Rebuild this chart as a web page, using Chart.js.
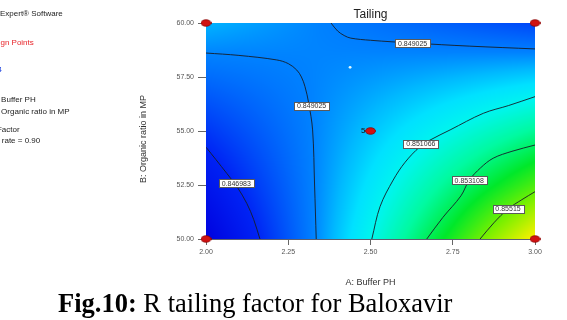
<!DOCTYPE html>
<html>
<head>
<meta charset="utf-8">
<script src="https://cdn.jsdelivr.net/npm/chart.js@4.4.1/dist/chart.umd.min.js"></script>
<style>
  html, body { margin: 0; padding: 0; background: #ffffff; }
  canvas { display: block; }
</style>
</head>
<body>
<canvas id="plot" width="567" height="320"></canvas>
<script>
// ---- Factor grid and predicted Tailing response (Flow rate = 0.90) ----
const bufferPH = [2.0, 2.125, 2.25, 2.375, 2.5, 2.625, 2.75, 2.875, 3.0];
const organicRatio = [50, 51.25, 52.5, 53.75, 55, 56.25, 57.5, 58.75, 60];
// one row per organic ratio, one column per buffer pH
const tailing = [
  [0.845154, 0.846620, 0.848087, 0.849553, 0.851019, 0.852485, 0.853952, 0.855600, 0.857100],
  [0.845717, 0.846970, 0.848223, 0.849476, 0.850729, 0.851982, 0.853236, 0.854600, 0.855900],
  [0.846279, 0.847319, 0.848359, 0.849399, 0.850439, 0.851480, 0.852520, 0.853560, 0.854600],
  [0.846842, 0.847669, 0.848496, 0.849323, 0.850150, 0.850977, 0.851803, 0.852630, 0.853457],
  [0.847405, 0.848018, 0.848632, 0.849246, 0.849860, 0.850474, 0.851087, 0.851701, 0.852315],
  [0.847967, 0.848368, 0.848769, 0.849169, 0.849570, 0.849971, 0.850371, 0.850772, 0.851173],
  [0.848530, 0.848717, 0.848905, 0.849093, 0.849280, 0.849468, 0.849655, 0.849843, 0.850030],
  [0.849093, 0.849067, 0.849041, 0.849016, 0.848990, 0.848965, 0.848939, 0.848914, 0.848888],
  [0.849655, 0.849416, 0.849178, 0.848939, 0.848700, 0.848462, 0.848223, 0.847984, 0.847746]
];

// ---- Contour lines: [buffer pH, organic ratio] ----
const contour846983 = [[2.000, 54.25], [2.030, 53.68], [2.063, 53.04], [2.095, 52.40], [2.124, 51.65], [2.145, 50.90], [2.164, 50.00]];
const contour849025a = [[2.000, 58.61], [2.100, 58.50], [2.215, 58.29], [2.250, 58.12], [2.276, 57.82], [2.290, 57.50], [2.301, 57.05], [2.312, 56.30], [2.324, 55.05], [2.330, 52.50], [2.335, 50.00]];
const contour849025b = [[2.380, 60.00], [2.400, 59.63], [2.420, 59.42], [2.440, 59.30], [2.500, 59.20], [2.630, 59.07], [2.800, 58.93], [3.000, 58.80]];
const contour851066 = [[3.000, 56.59], [2.920, 56.18], [2.843, 55.82], [2.742, 55.05], [2.681, 54.58], [2.650, 54.27], [2.605, 53.55], [2.569, 52.73], [2.529, 51.50], [2.504, 50.00]];
const contour853108 = [[3.000, 54.35], [2.930, 54.06], [2.873, 53.74], [2.835, 53.30], [2.800, 52.72], [2.775, 52.00], [2.720, 51.00], [2.671, 50.00]];
const contour855150 = [[3.000, 52.19], [2.960, 51.82], [2.918, 51.39], [2.875, 50.75], [2.833, 50.00]];

// contour level text and where each label sits on its line
const contourText = ['0.846983', '0.849025', '0.849025', '0.851066', '0.853108', '0.85515'];
const contourLabelAt = [[2.092, 52.58], [2.321, 56.18], [2.628, 59.07], [2.653, 54.42], [2.800, 52.71], [2.918, 51.39]];

// ---- Design points ----
const designPH = [2.0, 3.0, 2.0, 3.0, 2.5];
const designOrganic = [60, 60, 50, 50, 55];
const centerReplicates = '5';
const flagPH = [2.438];
const flagOrganic = [57.95];

// ---- Tick labels ----
const phTicks = ['2.00', '2.25', '2.50', '2.75', '3.00'];
const organicTicks = ['50.00', '52.50', '55.00', '57.50', '60.00'];

// ---- Colour ramp for the response ----
const rampStops = [
  [0.8451, [0, 0, 222]],
  [0.8470, [0, 34, 244]],
  [0.8490, [0, 130, 255]],
  [0.8497, [0, 185, 255]],
  [0.8503, [0, 225, 255]],
  [0.8510, [0, 245, 238]],
  [0.8522, [0, 250, 160]],
  [0.8536, [0, 232, 42]],
  [0.8552, [120, 240, 0]],
  [0.8570, [250, 240, 0]]
];

function rampColor(v) {
  if (v <= rampStops[0][0]) return rampStops[0][1];
  for (let i = 1; i < rampStops.length; i++) {
    if (v <= rampStops[i][0]) {
      const [v0, c0] = rampStops[i - 1], [v1, c1] = rampStops[i];
      const t = (v - v0) / (v1 - v0);
      return [0, 1, 2].map(k => Math.round(c0[k] + (c1[k] - c0[k]) * t));
    }
  }
  return rampStops[rampStops.length - 1][1];
}

function cellIndex(arr, v) {
  let i = 0;
  while (i < arr.length - 2 && v > arr[i + 1]) i++;
  return i;
}

// value inside one grid cell, shaded bilinearly between its four nodes
function surfaceAt(xv, yv) {
  xv = Math.min(Math.max(xv, bufferPH[0]), bufferPH[bufferPH.length - 1]);
  yv = Math.min(Math.max(yv, organicRatio[0]), organicRatio[organicRatio.length - 1]);
  const i = cellIndex(bufferPH, xv), j = cellIndex(organicRatio, yv);
  const tx = (xv - bufferPH[i]) / (bufferPH[i + 1] - bufferPH[i]);
  const ty = (yv - organicRatio[j]) / (organicRatio[j + 1] - organicRatio[j]);
  const a = tailing[j][i], b = tailing[j][i + 1], c = tailing[j + 1][i], d = tailing[j + 1][i + 1];
  return (a * (1 - tx) + b * tx) * (1 - ty) + (c * (1 - tx) + d * tx) * ty;
}

// paints the response surface under the contour lines
const surfacePlugin = {
  id: 'surface',
  beforeDatasetsDraw(chart) {
    const { ctx, chartArea: area, scales } = chart;
    const L = Math.round(area.left), T = Math.round(area.top);
    const W = Math.round(area.right) - L, H = Math.round(area.bottom) - T;
    const off = document.createElement('canvas');
    off.width = W; off.height = H;
    const octx = off.getContext('2d');
    const img = octx.createImageData(W, H);
    for (let j = 0; j < H; j++) {
      const yv = scales.y.getValueForPixel(T + j + 0.5);
      for (let i = 0; i < W; i++) {
        const xv = scales.x.getValueForPixel(L + i + 0.5);
        const c = rampColor(surfaceAt(xv, yv));
        const k = (j * W + i) * 4;
        img.data[k] = c[0]; img.data[k + 1] = c[1]; img.data[k + 2] = c[2]; img.data[k + 3] = 255;
      }
    }
    octx.putImageData(img, 0, 0);
    ctx.drawImage(off, L, T);
  }
};

// boxed level labels on the contour lines and the replicate count
const labelPlugin = {
  id: 'contourLabels',
  afterDatasetsDraw(chart) {
    const { ctx, scales } = chart;
    ctx.save();
    ctx.font = '7px "Liberation Sans", Arial, sans-serif';
    ctx.textAlign = 'center';
    ctx.textBaseline = 'middle';
    contourText.forEach((txt, n) => {
      const px = scales.x.getPixelForValue(contourLabelAt[n][0]);
      const py = scales.y.getPixelForValue(contourLabelAt[n][1]);
      const w = Math.round(ctx.measureText(txt).width) + 6, h = 8;
      const bx = Math.round(px - w / 2) + 0.5, by = Math.round(py - h / 2) + 0.5;
      ctx.fillStyle = '#ffffff';
      ctx.fillRect(bx, by, w, h);
      ctx.strokeStyle = '#5a5a5a';
      ctx.lineWidth = 1;
      ctx.strokeRect(bx, by, w, h);
      ctx.fillStyle = '#333333';
      ctx.fillText(txt, px, py + 0.5);
    });
    // replicate count beside the centre point
    ctx.font = '8px "Liberation Sans", Arial, sans-serif';
    ctx.textAlign = 'right';
    ctx.fillStyle = '#111111';
    ctx.fillText(centerReplicates, scales.x.getPixelForValue(designPH[4]) - 5, scales.y.getPixelForValue(designOrganic[4]));
    ctx.restore();
  }
};

// titles, side notes and figure caption
const textPlugin = {
  id: 'texts',
  afterDraw(chart) {
    const { ctx, chartArea: area } = chart;
    const cx = (area.left + area.right) / 2;
    ctx.save();
    ctx.textBaseline = 'middle';
    ctx.fillStyle = '#222222';
    ctx.textAlign = 'center';
    ctx.font = '12px "Liberation Sans", Arial, sans-serif';
    ctx.fillText('Tailing', cx, 15);

    ctx.font = '9px "Liberation Sans", Arial, sans-serif';
    ctx.fillStyle = '#333333';
    ctx.fillText('A: Buffer PH', cx, area.bottom + 43.5);
    ctx.save();
    ctx.translate(144, (area.top + area.bottom) / 2 + 8);
    ctx.rotate(-Math.PI / 2);
    ctx.fillText('B: Organic ratio in MP', 0, 0);
    ctx.restore();

    // side notes
    ctx.font = '8px "Liberation Sans", Arial, sans-serif';
    ctx.textAlign = 'left';
    ctx.fillStyle = '#222222';
    const x0 = -ctx.measureText('Design-').width;
    ctx.fillText('Design-Expert\u00AE Software', x0, 14);
    ctx.fillStyle = '#e8262b';
    ctx.fillText('Design Points', x0 + 12, 43);
    ctx.fillStyle = '#2a4de0';
    ctx.textAlign = 'right';
    ctx.fillText('0.845154', 2, 70);
    ctx.textAlign = 'left';
    ctx.fillStyle = '#222222';
    ctx.fillText('X1 = A: Buffer PH', x0, 100);
    ctx.fillText('X2 = B: Organic ratio in MP', x0, 112);
    ctx.fillText('Actual Factor', x0, 130);
    ctx.fillText('C: Flow rate = 0.90', x0, 141);

    // caption
    ctx.fillStyle = '#000000';
    ctx.textBaseline = 'alphabetic';
    ctx.font = 'bold 26.5px "Liberation Serif", "Times New Roman", serif';
    const bold = 'Fig.10:';
    ctx.fillText(bold, 58, 312);
    const bw = ctx.measureText(bold).width;
    ctx.font = '26.5px "Liberation Serif", "Times New Roman", serif';
    ctx.fillText(' R tailing factor for Baloxavir', 58 + bw, 312);
    ctx.restore();
  }
};

// red oval marker for the design points
function ovalMarker() {
  const c = document.createElement('canvas');
  c.width = 11; c.height = 8;
  const g = c.getContext('2d');
  g.beginPath();
  g.ellipse(5.5, 4, 5, 3.3, 0, 0, Math.PI * 2);
  g.fillStyle = '#d01212';
  g.fill();
  g.lineWidth = 0.8;
  g.strokeStyle = '#8a0000';
  g.stroke();
  return c;
}

const toXY = pts => pts.map(p => ({ x: p[0], y: p[1] }));
const contourStyle = {
  type: 'line', showLine: true, pointRadius: 0, borderColor: 'rgba(22,30,40,0.9)',
  borderWidth: 1, tension: 0.35, fill: false
};

new Chart(document.getElementById('plot'), {
  type: 'scatter',
  data: {
    datasets: [
      { ...contourStyle, data: toXY(contour846983) },
      { ...contourStyle, data: toXY(contour849025a) },
      { ...contourStyle, data: toXY(contour849025b) },
      { ...contourStyle, data: toXY(contour851066) },
      { ...contourStyle, data: toXY(contour853108) },
      { ...contourStyle, data: toXY(contour855150) },
      {
        data: flagPH.map((v, i) => ({ x: v, y: flagOrganic[i] })),
        pointRadius: 1.4, backgroundColor: '#dff9ff', borderWidth: 0
      },
      {
        data: designPH.map((v, i) => ({ x: v, y: designOrganic[i] })),
        pointStyle: ovalMarker(), clip: false
      }
    ]
  },
  options: {
    responsive: false,
    devicePixelRatio: 1,
    animation: false,
    events: [],
    layout: { padding: { top: 23, right: 32, left: 0, bottom: 0 } },
    plugins: { legend: { display: false }, tooltip: { enabled: false }, title: { display: false } },
    scales: {
      x: {
        type: 'linear', min: 2, max: 3,
        afterBuildTicks: s => { s.ticks = phTicks.map(t => ({ value: parseFloat(t) })); },
        afterFit: s => { s.height = 81; },
        ticks: {
          callback: (v, i) => phTicks[i],
          font: { family: '"Liberation Sans", Arial, sans-serif', size: 7 },
          color: '#555555', padding: 3, maxRotation: 0
        },
        grid: { drawOnChartArea: false, drawTicks: true, tickLength: 6, color: '#666666' },
        border: { display: true, color: '#5c6070' }
      },
      y: {
        type: 'linear', min: 50, max: 60,
        afterBuildTicks: s => { s.ticks = organicTicks.map(t => ({ value: parseFloat(t) })); },
        afterFit: s => { s.width = 206; },
        ticks: {
          callback: (v, i) => organicTicks[i],
          font: { family: '"Liberation Sans", Arial, sans-serif', size: 7 },
          color: '#555555', padding: 4
        },
        grid: { drawOnChartArea: false, drawTicks: true, tickLength: 8, color: '#666666' },
        border: { display: true, color: '#5c6070' }
      }
    }
  },
  plugins: [surfacePlugin, labelPlugin, textPlugin]
});
</script>
</body>
</html>
